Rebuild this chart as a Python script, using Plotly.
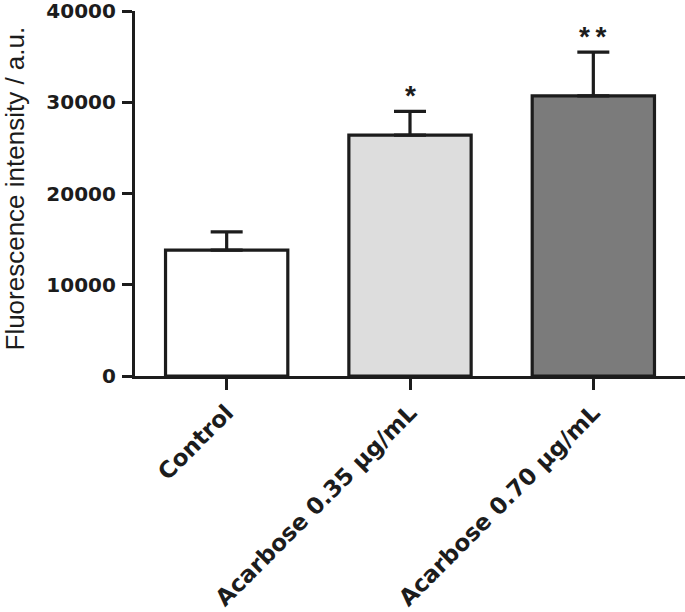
import plotly.graph_objects as go

categories = ["Control", "Acarbose 0.35 µg/mL", "Acarbose 0.70 µg/mL"]
means = [13800, 26400, 30700]
sem = [2000, 2600, 4800]
fills = ["#ffffff", "#dddddd", "#7b7b7b"]
signif = ["", "*", "*\u2009*"]
y_ticks = [0, 10000, 20000, 30000, 40000]
y_tick_text = ["0", "10000", "20000", "30000", "40000"]

ink = "#1c1c1c"

fig = go.Figure()
fig.add_trace(go.Bar(
    x=categories, y=means, width=0.667,
    marker=dict(color=fills, line=dict(color=ink, width=3.2)),
    error_y=dict(type="data", array=sem, arrayminus=[0] * len(sem), symmetric=False,
                 thickness=3.2, width=16, color=ink),
    showlegend=False,
))

for c, m, s, lab in zip(categories, means, sem, signif):
    if lab:
        fig.add_annotation(x=c, y=m + s, text="<b>" + lab + "</b>", showarrow=False,
                           yanchor="bottom", yshift=-2,
                           font=dict(family="Liberation Sans", size=28, color=ink))

fig.add_annotation(xref="paper", yref="paper", x=0, y=0.5, xshift=-121, yshift=5,
                   text="Fluorescence intensity / a.u.", textangle=-90, showarrow=False,
                   xanchor="center", yanchor="middle",
                   font=dict(family="Liberation Sans", size=26, color=ink))

fig.update_layout(
    width=685, height=612,
    margin=dict(l=135, r=0, t=11, b=236),
    paper_bgcolor="white", plot_bgcolor="white",
    xaxis=dict(type="category", range=[-0.5, 2.5], showline=True, linewidth=3.2,
               linecolor=ink, ticks="outside", ticklen=11, tickwidth=3.2, tickcolor=ink,
               tickangle=-45, showgrid=False, zeroline=False, automargin=False,
               ticklabeloverflow="allow",
               tickfont=dict(family="DejaVu Sans", size=23, color=ink, weight="bold")),
    yaxis=dict(range=[0, 40000], tickmode="array", tickvals=y_ticks, ticktext=y_tick_text,
               showline=True, linewidth=3.2, automargin=False, ticklabeloverflow="allow",
               linecolor=ink, ticks="outside", ticklen=10, tickwidth=3.2, tickcolor=ink,
               showgrid=False, zeroline=False, ticklabelstandoff=2,
               tickfont=dict(family="DejaVu Sans", size=20, color=ink, weight="bold")),
)

fig.write_html("out.html", config={"displayModeBar": False},
               post_script="document.body.style.margin='0';")
